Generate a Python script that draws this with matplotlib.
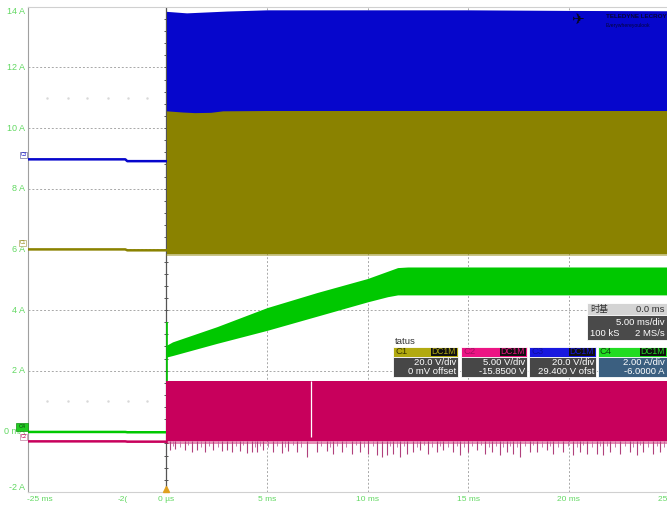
import numpy as np
import matplotlib
matplotlib.use("Agg")
import matplotlib.pyplot as plt
from matplotlib.patches import Rectangle

plt.rcParams['font.family'] = ['Liberation Sans', 'Noto Sans CJK SC', 'DejaVu Sans']

# scope colours
BLUE = '#0606cc'
OLIVE = '#8a8200'
GREEN = '#00c800'
MAGENTA = '#c8005c'
LABEL = '#62d862'

T_LEFT, T_RIGHT = -6.89, 24.9

# pre-trigger levels (ms, A)
pre_t = [T_LEFT, -2.05, -1.95, 0.0]
c3_pre = [8.97, 8.97, 8.91, 8.91]
c1_pre = [6.00, 6.00, 5.97, 5.97]
c4_pre = [-0.02, -0.02, -0.03, -0.03]
c2_pre = [-0.33, -0.33, -0.34, -0.34]

# C3 envelope after trigger
c3_t = [0.0, 1.0, 3.0, 5.0, 10.0, 15.0, 20.0, T_RIGHT]
c3_top = [13.85, 13.80, 13.86, 13.90, 13.90, 13.90, 13.88, 13.87]

# C1 envelope after trigger
c1_t = [0.0, 0.8, 1.4, 2.2, 2.8, 5.0, 10.0, 15.0, 20.0, T_RIGHT]
c1_top = [10.57, 10.53, 10.51, 10.52, 10.57, 10.58, 10.58, 10.58, 10.58, 10.58]
c1_bot = [5.86, 5.86, 5.86, 5.86, 5.86, 5.86, 5.86, 5.86, 5.86, 5.86]

# C4 inductor current ramp
c4_t = [0.0, 0.3, 2.5, 5.0, 7.5, 10.0, 11.0, 11.5, 12.0, 15.0, 20.0, T_RIGHT]
c4_top = [2.84, 2.95, 3.45, 4.08, 4.58, 5.04, 5.28, 5.40, 5.42, 5.42, 5.42, 5.42]
c4_bot = [2.45, 2.50, 2.90, 3.33, 3.80, 4.27, 4.44, 4.50, 4.50, 4.50, 4.50, 4.50]
c4_spike = 3.62

# C2 envelope and its negative glitches
c2_top = 1.65
c2_bot = -0.33
c2_gap_t = 7.17
spike_t = [0.17, 0.42, 0.92, 1.25, 1.50, 1.92, 2.33, 2.75, 3.00, 3.24, 3.66, 3.99,
           4.24, 4.49, 4.82, 5.31, 5.73, 6.06, 6.48, 6.97, 7.47, 7.97, 8.30, 8.72,
           9.21, 9.63, 10.04, 10.46, 10.71, 10.96, 11.28, 11.62, 11.95, 12.28, 12.61,
           13.02, 13.44, 13.77, 14.27, 14.60, 15.01, 15.43, 15.85, 16.18, 16.59, 16.93,
           17.25, 17.59, 18.08, 18.42, 18.92, 19.24, 19.74, 20.24, 20.57, 20.91, 21.40,
           21.73, 22.06, 22.56, 23.06, 23.39, 23.72, 24.22, 24.55]
spike_a = [-0.63, -0.57, -0.63, -0.68, -0.60, -0.68, -0.63, -0.65, -0.60, -0.68, -0.65, -0.72,
           -0.68, -0.68, -0.63, -0.68, -0.72, -0.65, -0.68, -0.83, -0.68, -0.65, -0.74, -0.68,
           -0.74, -0.68, -0.74, -0.79, -0.83, -0.79, -0.74, -0.85, -0.74, -0.68, -0.63,
           -0.74, -0.68, -0.63, -0.68, -0.79, -0.68, -0.63, -0.74, -0.68, -0.79, -0.68,
           -0.74, -0.85, -0.68, -0.68, -0.63, -0.74, -0.68, -0.79, -0.68, -0.74, -0.74,
           -0.79, -0.68, -0.74, -0.68, -0.79, -0.68, -0.74, -0.68]
# shorter glitches between the deep ones
small_t = [0.30, 0.65, 1.08, 1.70, 2.12, 2.55, 3.45, 3.82, 4.38, 4.65, 5.05, 5.52,
           5.90, 6.27, 6.70, 7.70, 8.12, 8.50, 8.95, 9.42, 9.83, 10.25, 11.12, 11.45,
           11.80, 12.45, 12.82, 13.22, 13.60, 14.02, 14.44, 14.80, 15.22, 15.64, 16.02,
           16.38, 16.76, 17.08, 17.42, 17.82, 18.25, 18.66, 19.08, 19.50, 19.98, 20.40,
           20.74, 21.15, 21.56, 21.90, 22.30, 22.80, 23.22, 23.55, 23.96, 24.38, 24.75]
small_a = [-0.48, -0.52, -0.46, -0.50, -0.47, -0.53, -0.49, -0.45, -0.51, -0.48, -0.52, -0.47,
           -0.50, -0.46, -0.53, -0.48, -0.51, -0.47, -0.50, -0.46, -0.52, -0.49, -0.47, -0.53,
           -0.48, -0.50, -0.46, -0.52, -0.48, -0.51, -0.47, -0.53, -0.49, -0.46, -0.52,
           -0.48, -0.50, -0.47, -0.53, -0.49, -0.46, -0.51, -0.48, -0.52, -0.47, -0.50,
           -0.46, -0.53, -0.49, -0.47, -0.51, -0.48, -0.52, -0.46, -0.50, -0.48, -0.52]

# axis labels
y_ticks = [-1.85, 0, 2, 4, 6, 8, 10, 12, 13.83]
y_labels = ['-2 A', '0 mA', '2 A', '4 A', '6 A', '8 A', '10 A', '12 A', '14 A']
x_label_pos = [-6.3, -2.2, 0.0, 5, 10, 15, 20, 25]
x_labels = ['-25 ms', '-2(', '0 µs', '5 ms', '10 ms', '15 ms', '20 ms', '25 ms']
x_grid = [5, 10, 15, 20]
y_grid = [2, 4, 6, 8, 10, 12]
dot_t = [-5.96, -4.89, -3.94, -2.90, -1.90, -0.99]
dot_a = [11.0, 1.0]

W, H = 667, 508
fig = plt.figure(figsize=(W / 100, H / 100), dpi=100)
fig.patch.set_facecolor('white')
ax = fig.add_axes([28 / W, 16 / H, 1 - 28 / W, (492 - 6.8) / H])
ax.set_xlim(T_LEFT, T_RIGHT)
ax.set_ylim(-2, 14)
ax.set_xticks([])
ax.set_yticks([])
for side in ['top', 'bottom']:
    ax.spines[side].set_color('#d0d0d0')
ax.spines['left'].set_color('#a0a0a0')
ax.spines['right'].set_visible(False)

# graticule
for g in y_grid:
    ax.axhline(g, color='#a8a8a8', lw=0.7, ls=(0, (2, 2)), zorder=1)
for g in x_grid:
    ax.axvline(g, color='#a8a8a8', lw=0.7, ls=(0, (2, 2)), zorder=1)
for a in dot_a:
    ax.plot(dot_t, [a] * len(dot_t), ls='none', marker='.', ms=1.5, color='#d8d8d8', zorder=1)
ax.axvline(0, color='#555555', lw=0.9, zorder=1)
ax.plot([0] * 40, np.arange(-2, 14, 0.4), ls='none', marker='_', ms=3, mew=0.7,
        color='#555555', zorder=1)

# pre-trigger traces
ax.plot(pre_t, c3_pre, color=BLUE, lw=1.8, zorder=3)
ax.plot(pre_t, c1_pre, color=OLIVE, lw=1.8, zorder=3)
ax.plot(pre_t, c4_pre, color=GREEN, lw=1.8, zorder=3)
ax.plot(pre_t, c2_pre, color=MAGENTA, lw=1.8, zorder=3)

# switching envelopes
ax.fill_between(c3_t, 6.5, c3_top, color=BLUE, lw=0, zorder=2)
ax.fill_between(c1_t, c1_bot, c1_top, color=OLIVE, lw=0, zorder=3)
ax.fill_between(c1_t, np.array(c1_bot) - 0.07, c1_bot, color=OLIVE, alpha=0.45, lw=0, zorder=3)
ax.fill_between(c4_t, c4_bot, c4_top, color=GREEN, lw=0, zorder=3)
ax.vlines(0.03, 0, c4_spike, color=GREEN, lw=1.2, zorder=3)
ax.fill_between([0, T_RIGHT], c2_bot, c2_top, color=MAGENTA, lw=0, zorder=3)
ax.fill_between([0, T_RIGHT], c2_bot - 0.1, c2_bot, color=MAGENTA, alpha=0.45, lw=0, zorder=3)
ax.vlines(small_t, c2_bot, small_a, color='#c0609a', lw=0.6, zorder=3)
ax.vlines(spike_t, c2_bot, spike_a, color='#b0407c', lw=0.8, zorder=3)
ax.vlines(c2_gap_t, -0.18, c2_top, color='white', lw=0.9, zorder=4)

# vertical scale labels
for v, s in zip(y_ticks, y_labels):
    ax.text(-0.004, v, s, transform=ax.get_yaxis_transform(), ha='right', va='center',
            fontsize=6.5, color=LABEL, clip_on=False)
for p, s in zip(x_label_pos, x_labels):
    ax.text(p, -0.008, s, transform=ax.get_xaxis_transform(), ha='center', va='top',
            fontsize=6, color=LABEL, clip_on=False)

# overlay in screen pixels for the readouts
ov = fig.add_axes([0, 0, 1, 1], zorder=5)
ov.set_xlim(0, W)
ov.set_ylim(H, 0)
ov.axis('off')
ov.patch.set_alpha(0)

ov.plot(166, 489, marker='^', ms=4, color='#e0a020', clip_on=False)

# channel tags on the left edge
ov.add_patch(Rectangle((20, 152), 7, 6, fc='white', ec='#7070a0', lw=0.5))
ov.text(23.5, 155, 'C3', fontsize=3.5, color=BLUE, ha='center', va='center')
ov.add_patch(Rectangle((19, 240), 7, 6, fc='white', ec='#b0a860', lw=0.5))
ov.text(22.5, 243, 'C1', fontsize=3.5, color=OLIVE, ha='center', va='center')
ov.add_patch(Rectangle((16, 423), 12, 8, fc='#22cc22', ec='#109010', lw=0.5))
ov.text(22, 427, 'C4', fontsize=4, color='#104010', ha='center', va='center')
ov.add_patch(Rectangle((20, 434), 7, 6, fc='white', ec='#c080a0', lw=0.5))
ov.text(23.5, 437, 'C2', fontsize=3.5, color=MAGENTA, ha='center', va='center')

# logo
ov.text(571, 20, '✈', fontsize=11, color='#06061e', ha='left', va='center',
        family=['DejaVu Sans'])
ov.text(606, 17, 'TELEDYNE LECROY', fontsize=4.5, color='#050538', ha='left', va='center',
        weight='bold')
ov.text(606, 25, 'Everywhereyoulook', fontsize=3.6, color='#050538', ha='left', va='center')

# timebase readout
ov.add_patch(Rectangle((587, 303), 80, 12, fc='#d4d4d4', ec='white', lw=0.6))
ov.add_patch(Rectangle((587, 315), 80, 25, fc='#4a4a4a', ec='white', lw=0.6))
ov.text(590, 309.5, '时基', fontsize=6.5, color='#303030', va='center')
ov.text(665, 309.5, '0.0 ms', fontsize=6.8, color='#303030', va='center', ha='right')
ov.text(665, 322.5, '5.00 ms/div', fontsize=6.8, color='white', va='center', ha='right')
ov.text(590, 333.5, '100 kS', fontsize=6.8, color='white', va='center')
ov.text(665, 333.5, '2 MS/s', fontsize=6.8, color='white', va='center', ha='right')

# channel readouts
ov.text(395, 341.5, 'tatus', fontsize=6.8, color='#333333', va='center')
chan_x = [(393, 458), (461, 527), (529, 596), (598, 667)]
chan_name = ['C1', 'C2', 'C3', 'C4']
chan_head = ['#b2aa10', '#ec1484', '#1818e0', '#22dc22']
chan_text = ['#3a3600', '#a01060', '#1010a0', '#104010']
chan_body = ['#474747', '#474747', '#474747', '#3b5f80']
chan_div = ['20.0 V/div', '5.00 V/div', '20.0 V/div', '2.00 A/div']
chan_off = ['0 mV offset', '-15.8500 V', '29.400 V ofst', '-6.0000 A']
for (x0, x1), name, hc, tc, bc, d, o in zip(chan_x, chan_name, chan_head, chan_text,
                                            chan_body, chan_div, chan_off):
    ov.add_patch(Rectangle((x0, 347), x1 - x0, 10, fc=hc, ec='white', lw=0.6))
    ov.add_patch(Rectangle((x1 - 27, 348), 26, 8, fc='#101010', lw=0))
    ov.add_patch(Rectangle((x0, 357), x1 - x0, 20, fc=bc, ec='white', lw=0.6))
    ov.text(x0 + 2, 352, name, fontsize=6.8, color=tc, va='center')
    ov.text(x1 - 2, 352, 'DC1M', fontsize=6.2, color=hc, va='center', ha='right')
    ov.text(x1 - 2, 362.5, d, fontsize=6.8, color='white', va='center', ha='right')
    ov.text(x1 - 2, 372, o, fontsize=6.8, color='white', va='center', ha='right')

fig.savefig('out.png', dpi=100)
